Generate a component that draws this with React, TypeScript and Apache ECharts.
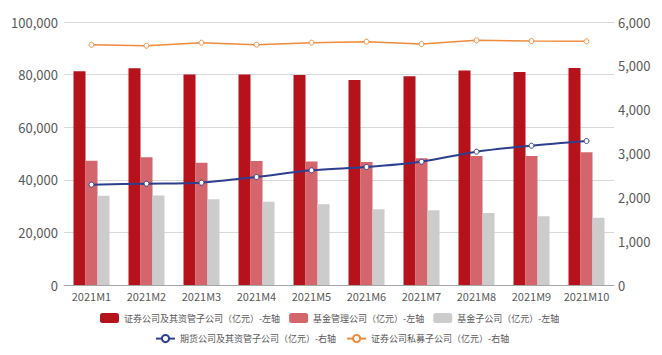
import React, { useEffect, useRef } from "react";
import * as echarts from "echarts";

const categories = ["2021M1", "2021M2", "2021M3", "2021M4", "2021M5", "2021M6", "2021M7", "2021M8", "2021M9", "2021M10"];
const securities = [81300, 82400, 80000, 80000, 79850, 77950, 79350, 81600, 81000, 82500];
const fundMgmt = [47260, 48550, 46500, 47150, 47000, 46770, 48170, 49050, 49050, 50450];
const fundSub = [33970, 34000, 32570, 31690, 30670, 28770, 28390, 27380, 26110, 25600];
const futures = [2289, 2311, 2334, 2464, 2616, 2692, 2813, 3041, 3178, 3285];
const privateEq = [5482, 5459, 5528, 5482, 5528, 5551, 5498, 5582, 5566, 5559];

const names = [
  "证券公司及其资管子公司（亿元）-左轴",
  "基金管理公司（亿元）-左轴",
  "基金子公司（亿元）-左轴",
  "期货公司及其资管子公司（亿元）-右轴",
  "证券公司私募子公司（亿元）-右轴",
];

const FONT = "'Noto Sans CJK SC', 'Noto Sans', sans-serif";
const LABEL = "#595959";

export default function App() {
  const ref = useRef<HTMLDivElement>(null);
  useEffect(() => {
    document.body.style.margin = "0";
    const chart = echarts.init(ref.current!, null, { renderer: "svg" });
    const fmt = (v: number) => v.toLocaleString("en-US");
    chart.setOption({
      animation: false,
      textStyle: { fontFamily: FONT },
      grid: { left: 64, right: 48, top: 22, bottom: 70 },
      legend: [
        {
          data: names.slice(0, 3),
          left: 95,
          top: 308,
          itemWidth: 19,
          itemHeight: 10,
          itemGap: 9,
          icon: "roundRect",
          textStyle: { fontSize: 9, color: LABEL, fontFamily: FONT },
        },
        {
          data: names.slice(3),
          left: 150,
          top: 329,
          itemWidth: 19,
          itemHeight: 9,
          itemGap: 10,
          textStyle: { fontSize: 9, color: LABEL, fontFamily: FONT },
        },
      ],
      xAxis: {
        type: "category",
        data: categories,
        axisTick: { show: false },
        axisLine: { lineStyle: { color: "#a6a6a6" } },
        axisLabel: { color: LABEL, fontSize: 11, margin: 5, interval: 0 },
      },
      yAxis: [
        {
          type: "value",
          min: 0,
          max: 100000,
          interval: 20000,
          axisLabel: { color: LABEL, fontSize: 13, formatter: fmt, margin: 6 },
          axisLine: { show: false },
          axisTick: { show: false },
          splitLine: { lineStyle: { color: "#d9d9d9" } },
        },
        {
          type: "value",
          min: 0,
          max: 6000,
          interval: 1000,
          axisLabel: { color: LABEL, fontSize: 13, formatter: fmt, margin: 4 },
          axisLine: { show: false },
          axisTick: { show: false },
          splitLine: { show: false },
        },
      ],
      series: [
        { name: names[0], type: "bar", data: securities, barWidth: 12, barGap: "0%", itemStyle: { color: "#b5121b" } },
        { name: names[1], type: "bar", data: fundMgmt, barWidth: 12, barGap: "0%", itemStyle: { color: "#d5656c" } },
        { name: names[2], type: "bar", data: fundSub, barWidth: 12, barGap: "0%", itemStyle: { color: "#cccccc" } },
        {
          name: names[3],
          type: "line",
          yAxisIndex: 1,
          data: futures,
          smooth: 0.3,
          symbol: "circle",
          symbolSize: 5,
          lineStyle: { color: "#2e3f8f", width: 2 },
          itemStyle: { color: "#ffffff", borderColor: "#2e3f8f", borderWidth: 1 },
        },
        {
          name: names[4],
          type: "line",
          yAxisIndex: 1,
          data: privateEq,
          symbol: "circle",
          symbolSize: 5,
          lineStyle: { color: "#f08a3c", width: 1.5 },
          itemStyle: { color: "#ffffff", borderColor: "#f08a3c", borderWidth: 1 },
        },
      ],
    });
    return () => chart.dispose();
  }, []);
  return <div ref={ref} style={{ width: 662, height: 355 }} />;
}
